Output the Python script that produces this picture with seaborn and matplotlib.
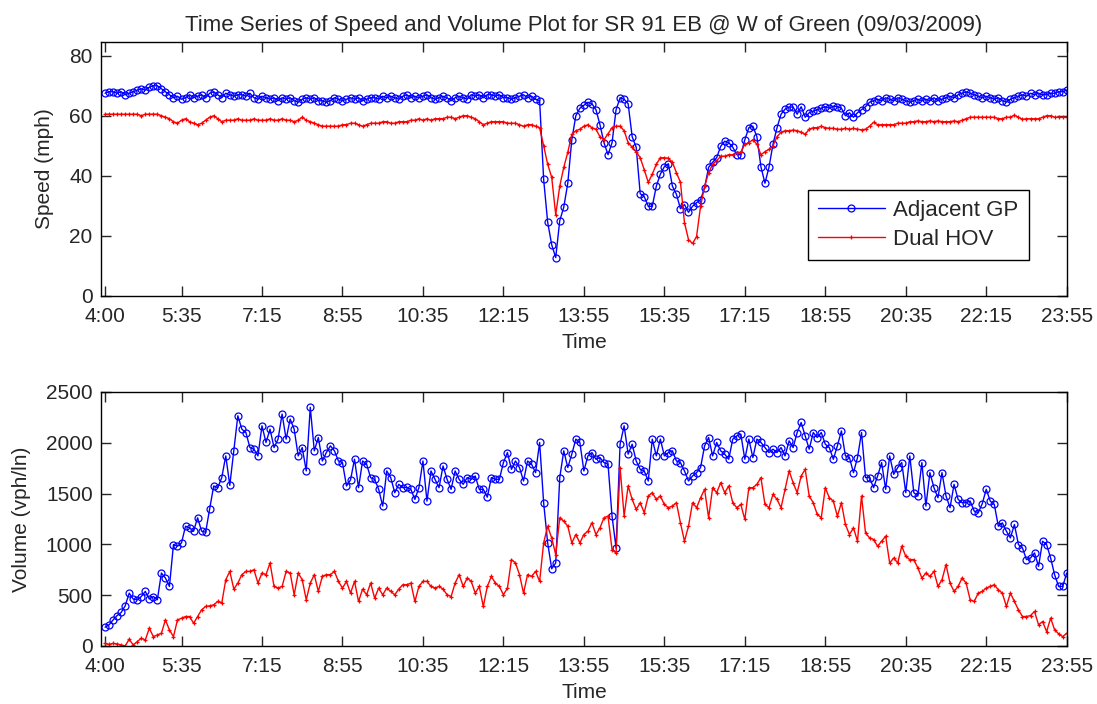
import numpy as np
import pandas as pd
import matplotlib
matplotlib.use("Agg")
import matplotlib.pyplot as plt
import seaborn as sns

# 5-minute intervals, 4:00 .. 23:55 (240 points)
times = [f"{(4 * 60 + 5 * k) // 60}:{(4 * 60 + 5 * k) % 60:02d}" for k in range(240)]
tick_idx = [0] + list(range(19, 240, 20))
tick_lab = [times[k] for k in tick_idx]

speed_gp = [
    67.5, 68, 68, 67.5, 68, 67, 67.5, 68, 68.5, 69, 68.5, 69.5,
    70, 70, 69, 68, 67, 66, 66.5, 65.5, 66, 67, 66, 66.5,
    67, 66, 67.5, 68, 67, 66, 67.5, 67, 66.5, 67, 67, 66.5,
    67.5, 66, 65.5, 66.5, 66, 65.5, 66, 65, 66, 65.5, 66, 65,
    64.5, 65.5, 66, 65.5, 66, 65, 65, 64.5, 65, 66, 65.5, 65,
    65.5, 66, 65.5, 66, 65, 65.5, 66, 66, 65.5, 66.5, 66, 66.5,
    66, 65.5, 66.5, 67, 66, 66.5, 66, 66.5, 67, 66, 65.5, 66,
    66.5, 66, 65, 66, 66.5, 66, 65.5, 67, 66.5, 67, 66, 67,
    67, 66.5, 67, 66, 66, 65.5, 66, 66.5, 67, 66, 66.5, 65.5,
    65, 38.8, 24.5, 17, 12.7, 25, 29.5, 37.5, 52, 60, 62.5, 63.5,
    64.5, 64, 62, 57, 51, 47, 51, 62, 66, 65.5, 64, 53,
    49.5, 34, 33, 29.8, 29.8, 36.5, 40.5, 43, 44, 36.5, 33.8, 29,
    30.4, 27.8, 29.8, 31, 32, 36, 42.8, 44.5, 46, 49.8, 51.5, 51,
    49.5, 47, 47, 52, 56, 56.5, 53, 43, 37.5, 42.8, 50.5, 56,
    60.5, 62.2, 62.9, 62.9, 60.5, 63, 59.5, 61, 61.5, 62, 62.5, 63,
    62.5, 63.2, 63, 62.5, 60, 61, 59.5, 61, 62, 63, 64.5, 65,
    65.5, 65, 66, 65.5, 65, 66, 65.5, 65, 64.5, 65, 65.5, 65,
    65.5, 65, 66, 65, 65.5, 66, 66.5, 66, 67, 67.5, 68, 67.5,
    67, 66.5, 66, 66.5, 66, 65.5, 66, 65, 64.5, 65.5, 66, 66.5,
    67, 66.5, 67.5, 67, 67.5, 67, 67, 67.5, 67.5, 68, 68, 68.5,
]

speed_hov = [
    60.5, 60.5, 60.5, 60.5, 60.5, 60.5, 60.5, 60.5, 60.5, 60, 60.5, 60.5,
    60.5, 60.5, 60, 59.5, 59, 58, 57.5, 58.5, 59, 58, 57.5, 57,
    57.5, 58.5, 59.5, 60, 59, 58, 58.5, 58.5, 58.5, 59, 58.5, 58.5,
    58.5, 59, 58.5, 58.5, 58.5, 59, 58.5, 58.5, 59, 58.5, 58.5, 58,
    58.5, 59.5, 58.5, 58, 57.5, 57, 56.5, 56.5, 56.5, 56.5, 56.5, 57,
    57, 57.5, 57.5, 57, 56.5, 57, 57.5, 57.5, 57.5, 58, 58, 57.5,
    57.5, 58, 58, 58, 58.5, 58.5, 59, 58.5, 59, 58.5, 59, 59,
    59, 59.5, 59.5, 59, 59.5, 60, 60, 59.5, 59, 58, 57, 57.5,
    58, 58, 58, 58, 57.5, 57.5, 57.5, 57, 56.5, 57, 57, 56.5,
    56, 50, 43.8, 39.5, 27, 36.5, 42.8, 47.8, 53.8, 55, 55.5, 56.5,
    57, 56, 55.5, 53, 52, 54, 56, 56.5, 56.5, 55, 51, 49.5,
    48, 46, 42, 37.8, 40.5, 43.8, 46, 46, 45.8, 44.5, 41, 37.8,
    24.4, 18.7, 17.4, 19.7, 29.8, 36.5, 41, 43.8, 45, 46.5, 46.5, 47,
    47, 47.5, 47.8, 50.5, 51, 52, 50.5, 47, 48, 48.8, 50, 53,
    54.5, 55, 55, 55.2, 55, 54.5, 53.8, 55.5, 56, 56, 56.5, 56,
    55.8, 55.8, 55.5, 55.5, 55.8, 55.5, 55.8, 55.5, 55.3, 55.5, 56.5, 57.8,
    57, 57, 57, 57, 57, 57.5, 57.5, 57.5, 58, 58, 58.3, 58,
    58, 58.3, 58, 58.3, 58, 58, 58, 58.3, 58, 58.5, 59, 59.5,
    59.5, 59.5, 59.5, 59.5, 59.5, 59.5, 59, 59, 59.5, 59.5, 60.2, 59.5,
    58.8, 59, 59, 59, 59, 59.5, 60, 60, 59.5, 59.5, 59.5, 59.5,
]

volume_gp = [
    185, 208, 257, 300, 330, 395, 520, 462, 455, 487, 537, 462,
    487, 455, 718, 669, 586, 998, 982, 1015, 1179, 1163, 1130, 1262,
    1130, 1120, 1351, 1575, 1558, 1657, 1871, 1581, 1921, 2266, 2134, 2101,
    1953, 1937, 1871, 2167, 2003, 2134, 1953, 2036, 2283, 2036, 2233, 2134,
    1871, 1953, 1723, 2349, 1921, 2052, 1821, 1904, 1970, 1921, 1821, 1805,
    1575, 1634, 1838, 1558, 1821, 1789, 1657, 1640, 1542, 1377, 1723, 1657,
    1509, 1591, 1558, 1560, 1542, 1443, 1558, 1821, 1426, 1723, 1640, 1558,
    1772, 1640, 1542, 1723, 1640, 1591, 1657, 1640, 1673, 1542, 1542, 1465,
    1657, 1640, 1640, 1805, 1904, 1739, 1821, 1756, 1624, 1821, 1789, 1706,
    2003, 1410, 1015, 760, 817, 1657, 1921, 1756, 1888, 2036, 2003, 1723,
    1871, 1904, 1838, 1854, 1805, 1789, 1278, 965, 1986, 2167, 1888, 1986,
    1821, 1739, 1723, 1624, 2036, 1871, 2036, 1871, 1904, 1921, 1821, 1805,
    1723, 1624, 1673, 1706, 1756, 1970, 2052, 1871, 2003, 1921, 1888, 1838,
    2036, 2068, 2085, 1838, 2036, 1854, 2036, 2003, 1953, 1904, 1937, 1904,
    1953, 1871, 2019, 1953, 2101, 2200, 2068, 1937, 2101, 2052, 2101, 1986,
    1953, 1838, 1970, 2117, 1871, 1854, 1706, 1854, 2101, 1657, 1657, 1558,
    1673, 1805, 1542, 1871, 1690, 1756, 1805, 1509, 1871, 1509, 1476, 1805,
    1377, 1706, 1558, 1459, 1706, 1476, 1361, 1591, 1443, 1410, 1410, 1426,
    1328, 1311, 1400, 1542, 1426, 1393, 1179, 1212, 1130, 1064, 1196, 998,
    965, 850, 866, 916, 784, 1031, 998, 866, 700, 586, 586, 718,
]

volume_hov = [
    26, 15, 26, 20, 10, 0, 67, 10, 43, 76, 59, 175,
    92, 109, 125, 257, 158, 92, 257, 274, 290, 290, 224, 290,
    356, 389, 395, 405, 438, 422, 652, 734, 560, 619, 702, 734,
    734, 750, 619, 718, 702, 817, 586, 570, 586, 734, 718, 504,
    718, 652, 455, 619, 702, 537, 685, 702, 702, 734, 636, 570,
    636, 520, 636, 438, 560, 504, 619, 471, 570, 504, 570, 537,
    504, 560, 603, 603, 619, 438, 586, 636, 636, 586, 570, 586,
    560, 504, 487, 619, 702, 586, 669, 636, 520, 586, 389, 586,
    685, 619, 586, 504, 570, 850, 817, 702, 520, 702, 685, 734,
    636, 1015, 1179, 1064, 899, 1262, 1229, 1179, 1015, 1097, 1015, 1097,
    1130, 1212, 1097, 1163, 1262, 1278, 949, 916, 1756, 1278, 1575, 1443,
    1344, 1410, 1311, 1476, 1509, 1443, 1476, 1393, 1361, 1377, 1410, 1212,
    1031, 1179, 1410, 1361, 1459, 1542, 1262, 1558, 1509, 1607, 1509, 1575,
    1410, 1361, 1393, 1245, 1558, 1558, 1591, 1657, 1393, 1361, 1492, 1443,
    1361, 1542, 1723, 1607, 1509, 1673, 1739, 1476, 1410, 1295, 1262, 1558,
    1459, 1426, 1278, 1410, 1196, 1097, 1163, 1031, 1476, 1113, 1064, 1048,
    982, 1031, 1081, 817, 866, 817, 982, 883, 850, 850, 768, 669,
    718, 685, 734, 586, 652, 801, 619, 537, 586, 669, 619, 455,
    438, 520, 537, 570, 586, 603, 553, 520, 389, 520, 438, 356,
    290, 290, 300, 340, 208, 241, 142, 274, 158, 120, 92, 125,
]

df = pd.DataFrame({
    "idx": np.arange(len(times)),
    "speed_gp": speed_gp, "speed_hov": speed_hov,
    "volume_gp": volume_gp, "volume_hov": volume_hov,
})

sns.set_style("ticks")
plt.rcParams["font.family"] = ["Liberation Sans", "DejaVu Sans"]
plt.rcParams["font.size"] = 15

fig = plt.figure(figsize=(10.97, 7.04), dpi=100)
ax1 = fig.add_axes([0.0921, 0.5800, 0.8803, 0.3604])
ax2 = fig.add_axes([0.0921, 0.0824, 0.8803, 0.3608])

# seaborn sets a white marker edge by default, so give the edge colour explicitly
gp_kw = dict(color="blue", marker="o", markersize=5, markerfacecolor="none",
             markeredgecolor="blue", markeredgewidth=0.9, linewidth=1.0)
hov_kw = dict(color="red", marker="+", markersize=3.5, markeredgecolor="red",
              markeredgewidth=0.9, linewidth=1.0)

sns.lineplot(data=df, x="idx", y="speed_gp", ax=ax1, label="Adjacent GP", **gp_kw)
sns.lineplot(data=df, x="idx", y="speed_hov", ax=ax1, label="Dual HOV", **hov_kw)
sns.lineplot(data=df, x="idx", y="volume_gp", ax=ax2, legend=False, **gp_kw)
sns.lineplot(data=df, x="idx", y="volume_hov", ax=ax2, legend=False, **hov_kw)

for ax in (ax1, ax2):
    ax.set_xlim(-1, 239)
    ax.set_xticks(tick_idx)
    ax.set_xticklabels(tick_lab)
    ax.set_xlabel("Time", fontsize=15, labelpad=5)
    ax.tick_params(direction="in", top=True, right=True, length=7,
                   width=1.0, labelsize=15)
    ax.tick_params(axis="x", pad=8)
    ax.tick_params(axis="y", pad=6)
    for s in ax.spines.values():
        s.set_linewidth(1.0)
        s.set_color("black")

ax1.set_ylim(0, 84.6)
ax1.set_yticks([0, 20, 40, 60, 80])
ax1.set_ylabel("Speed (mph)", fontsize=15, labelpad=11)
ax2.set_ylim(0, 2500)
ax2.set_yticks([0, 500, 1000, 1500, 2000, 2500])
ax2.set_ylabel("Volume (vph/ln)", fontsize=15, labelpad=11)

leg = ax1.legend(loc="upper left", bbox_to_anchor=(0.732, 0.4166), borderaxespad=0,
                 fontsize=16, frameon=True, fancybox=False, edgecolor="black",
                 framealpha=1, handlelength=3.0, handletextpad=0.4,
                 borderpad=0.45, labelspacing=0.35)
leg.get_frame().set_linewidth(1.0)

ax1.set_title("Time Series of Speed and Volume Plot for SR 91 EB @ W of Green (09/03/2009)",
              fontsize=16, pad=8)

fig.savefig("out.png", dpi=100)
